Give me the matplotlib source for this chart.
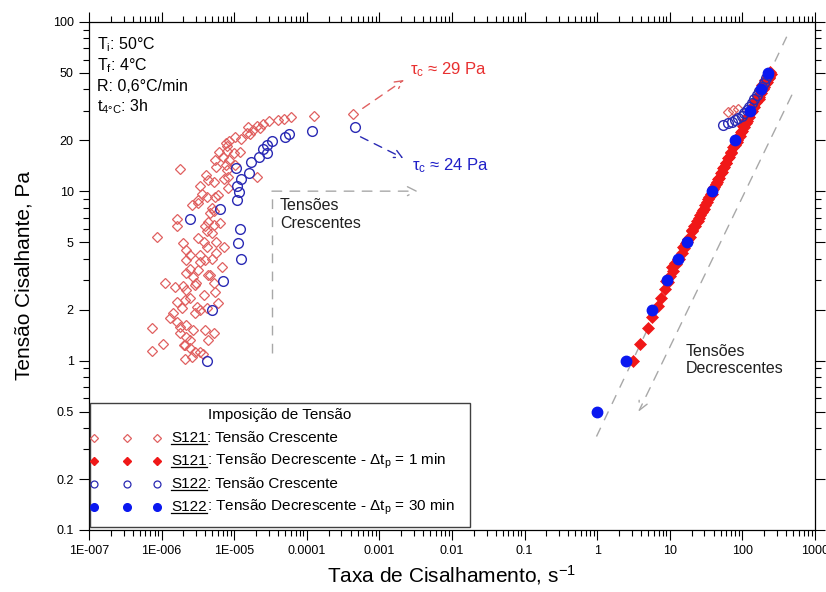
import matplotlib
matplotlib.use('Agg')
import matplotlib.pyplot as plt
from matplotlib.patches import Rectangle
from matplotlib.lines import Line2D
from matplotlib.ticker import FixedLocator, FixedFormatter, NullFormatter

plt.rcParams['font.family'] = ['Liberation Sans', 'DejaVu Sans']
plt.rcParams['mathtext.fontset'] = 'custom'
plt.rcParams['mathtext.rm'] = 'Liberation Sans'
plt.rcParams['mathtext.it'] = 'Liberation Sans:italic'
plt.rcParams['mathtext.bf'] = 'Liberation Sans:bold'

# ---------------- data ----------------
# S121 - increasing stress (open red diamonds)
s121_inc_x = [6.0e-5, 4.85e-5, 4.0e-5, 3.05e-5, 2.47e-5, 2.04e-5, 1.57e-5, 1.84e-5, 1.49e-5, 1.25e-5,
              1.04e-5, 8.6e-6, 7.7e-6, 7.9e-6, 8.0e-6, 6.2e-6, 7.1e-6, 5.7e-6, 8.5e-6, 9.9e-6,
              1.2e-5, 1.04e-5, 7.9e-6, 8.3e-6, 7.3e-6, 1.79e-6, 2.04e-5, 5.3e-6, 4.3e-6, 3.4e-6,
              3.6e-6, 4.2e-6, 3.2e-6, 2.6e-6, 5.4e-6, 5.2e-6, 4.6e-6, 4.3e-6, 5.2e-6, 6.4e-6,
              4.2e-6, 4.9e-6, 3.2e-6, 3.8e-6, 4.2e-6, 2.0e-6, 2.2e-6, 1.65e-6, 1.65e-6, 8.7e-7,
              7.2e-6, 5.7e-6, 4.9e-6, 3.4e-6, 4.0e-6, 2.2e-6, 2.46e-6, 2.7e-6, 2.2e-6, 3.2e-6,
              6.7e-6, 4.4e-6, 3.0e-6, 5.2e-6, 3.84e-6, 5.4e-6, 5.9e-6, 1.1e-6, 1.53e-6, 2.0e-6,
              2.2e-6, 1.61e-6, 2.46e-6, 3.04e-6, 2.9e-6, 3.4e-6, 4.2e-6, 1.89e-6, 1.45e-6, 1.61e-6,
              1.79e-6, 2.2e-6, 2.7e-6, 1.79e-6, 2.17e-6, 2.46e-6, 2.03e-6, 2.46e-6, 2.9e-6, 2.1e-6,
              2.6e-6, 3.76e-6, 5.2e-6, 4.4e-6, 7.3e-7, 1.03e-6, 7.3e-7, 1.27e-4, 4.38e-4, 2.26e-5,
              1.65e-5, 5.4e-6, 7.7e-6, 4.1e-6, 8.2e-6, 6.0e-6, 3.2e-6, 4.9e-6, 3.96e-6, 5.6e-6,
              2.46e-6, 3.4e-6, 4.6e-6, 2.9e-6, 2.1e-6, 1.3e-6, 3.96e-6, 2.1e-6, 3.4e-6,
              64.0, 74.0, 87.0]
s121_inc_y = [27.3, 26.6, 26.4, 26.1, 25.0, 24.3, 24.1, 23.0, 22.0, 20.5,
              20.8, 19.9, 19.2, 18.4, 17.4, 17.1, 15.9, 14.0, 15.3, 16.9,
              17.1, 14.3, 13.4, 12.2, 11.8, 13.6, 12.1, 11.3, 11.6, 10.8,
              9.7, 9.3, 8.5, 8.3, 9.3, 7.7, 7.4, 6.6, 6.3, 6.5,
              5.85, 5.65, 5.27, 5.04, 4.71, 4.93, 4.5, 6.9, 6.2, 5.35,
              4.71, 4.3, 4.0, 4.2, 3.93, 3.93, 3.5, 3.13, 3.28, 3.43,
              3.59, 3.2, 2.86, 2.86, 2.44, 2.55, 2.18, 2.89, 2.73, 2.76,
              2.61, 2.23, 2.33, 2.08, 1.9, 1.99, 2.04, 2.04, 1.9, 1.7,
              1.59, 1.62, 1.52, 1.45, 1.38, 1.32, 1.24, 1.18, 1.13, 1.02,
              1.05, 1.09, 1.45, 1.32, 1.55, 1.26, 1.14, 28.0, 28.6, 23.7,
              21.8, 15.3, 14.3, 12.5, 10.4, 9.5, 8.9, 8.0, 6.2, 5.0,
              4.2, 3.8, 3.2, 2.8, 2.28, 1.79, 1.52, 1.24, 1.12,
              29.5, 30.2, 30.6]

# S121 - decreasing stress, dt_p = 1 min (filled red diamonds)
s121_dec_x = [3.1, 3.9, 5.0, 5.6, 6.9, 7.6, 8.6, 9.4, 10.2, 11.2, 12.3, 13.4, 14.6, 15.9, 17.3,
              18.9, 20.5, 22.3, 24.2, 26.3, 28.6, 31.0, 33.7, 36.5, 39.5, 42.9, 46.4, 50.3, 54.3,
              58.8, 63.7, 69.0, 74.6, 80.8, 87.3, 94.3, 102, 110, 119, 129, 139, 150, 162, 175,
              189, 205, 222, 238,
              9.0, 11.8, 16.5, 21.5, 27.5, 35.0, 44.0, 56.0, 70.0, 85.0, 98.0, 115, 133, 155,
              180, 212, 230, 245,
              10.8, 13.0, 15.2, 17.8, 20.0, 23.5, 25.5, 30.0, 32.5, 38.0, 41.0, 48.0, 52.0, 60.0,
              66.0, 78.0, 83.0, 92.0, 105, 112, 124, 137, 145, 168, 172, 195, 200, 215, 232]
s121_dec_y = [1.0, 1.25, 1.55, 1.8, 2.1, 2.35, 2.65, 2.9, 3.15, 3.4, 3.7, 4.0, 4.3, 4.65, 5.0,
              5.4, 5.8, 6.25, 6.7, 7.2, 7.75, 8.3, 8.95, 9.6, 10.3, 11.1, 11.9, 12.8, 13.7,
              14.7, 15.8, 17.0, 18.2, 19.6, 21.0, 22.5, 24.2, 26.0, 27.9, 29.9, 32.0, 34.3, 36.8, 39.4,
              42.2, 45.2, 48.4, 50.5,
              2.95, 3.75, 4.95, 6.2, 7.6, 9.3, 11.4, 14.0, 16.9, 20.0, 22.6, 26.0, 29.4, 33.5,
              38.0, 43.5, 46.5, 49.0,
              3.55, 4.0, 4.7, 5.2, 5.9, 6.7, 7.0, 7.9, 8.6, 9.7, 10.6, 12.0, 13.0, 14.8,
              16.0, 18.7, 19.5, 21.3, 24.0, 25.3, 27.5, 29.8, 31.3, 35.2, 36.2, 40.0, 41.5, 44.0, 47.5]

# S122 - increasing stress (open blue circles)
s122_inc_x = [4.27e-6, 4.9e-6, 7.08e-6, 1.24e-5, 1.12e-5, 1.19e-5, 2.44e-6, 6.44e-6, 1.08e-5, 1.15e-5,
              1.08e-5, 1.23e-5, 1.6e-5, 1.05e-5, 1.72e-5, 2.2e-5, 2.8e-5, 2.47e-5, 2.83e-5, 3.29e-5,
              4.97e-5, 5.69e-5, 1.19e-4, 4.66e-4,
              54.6, 62.7, 71.3, 79.0, 87.9, 97.8, 106, 116, 123, 134, 146, 157, 169, 185, 196, 209, 223]
s122_inc_y = [0.99, 1.99, 2.96, 4.0, 4.97, 5.97, 6.89, 7.89, 8.89, 9.9,
              10.8, 11.9, 12.9, 13.7, 14.9, 15.9, 16.8, 17.9, 18.7, 19.8,
              20.9, 21.8, 22.7, 23.9,
              24.6, 25.2, 25.8, 26.4, 27.0, 27.9, 28.9, 30.2, 31.6, 33.1, 35.0, 37.0, 39.3, 41.5, 43.8, 46.5, 48.6]

# S122 - decreasing stress, dt_p = 30 min (filled blue circles)
s122_dec_x = [1.0, 2.47, 5.63, 9.06, 13.1, 17.1, 37.8, 79.0, 127, 180, 227]
s122_dec_y = [0.5, 1.0, 2.0, 3.0, 4.0, 5.0, 10.0, 20.0, 30.0, 40.0, 50.0]

x_ticks = [1e-7, 1e-6, 1e-5, 1e-4, 1e-3, 1e-2, 1e-1, 1, 10, 100, 1000]
x_tick_labels = ['1E-007', '1E-006', '1E-005', '0.0001', '0.001', '0.01', '0.1', '1', '10', '100', '1000']
y_ticks = [0.1, 0.2, 0.5, 1, 2, 5, 10, 20, 50, 100]
y_tick_labels = ['0.1', '0.2', '0.5', '1', '2', '5', '10', '20', '50', '100']

# ---------------- styles ----------------
RED_OPEN = '#e06060'
RED_FILL = '#f01818'
BLUE_OPEN = '#2a2ab4'
BLUE_FILL = '#0a18f0'
GREY = '#a8a8a8'

fig = plt.figure(figsize=(8.26, 5.92), dpi=100)
ax = fig.add_axes([89 / 826, 62 / 592, 726 / 826, 508 / 592])
ax.set_xscale('log')
ax.set_yscale('log')
ax.set_xlim(1e-7, 1e3)
ax.set_ylim(0.1, 100)

ax.plot(s121_inc_x, s121_inc_y, linestyle='none', marker='D', markersize=5.2,
        markerfacecolor='none', markeredgecolor=RED_OPEN, markeredgewidth=0.9, zorder=3)
ax.plot(s121_dec_x, s121_dec_y, linestyle='none', marker='D', markersize=6,
        markerfacecolor=RED_FILL, markeredgecolor=RED_FILL, markeredgewidth=0.5, zorder=4)
ax.plot(s122_inc_x, s122_inc_y, linestyle='none', marker='o', markersize=7,
        markerfacecolor='none', markeredgecolor=BLUE_OPEN, markeredgewidth=1.0, zorder=4)
ax.plot(s122_dec_x, s122_dec_y, linestyle='none', marker='o', markersize=7.5,
        markerfacecolor=BLUE_FILL, markeredgecolor=BLUE_FILL, zorder=5)

# ticks
ax.xaxis.set_major_locator(FixedLocator(x_ticks))
ax.xaxis.set_major_formatter(FixedFormatter(x_tick_labels))
ax.xaxis.set_minor_locator(FixedLocator([m * 10.0 ** k for k in range(-7, 3) for m in range(2, 10)]))
ax.xaxis.set_minor_formatter(NullFormatter())
ax.yaxis.set_major_locator(FixedLocator(y_ticks))
ax.yaxis.set_major_formatter(FixedFormatter(y_tick_labels))
ax.yaxis.set_minor_locator(FixedLocator([m * 10.0 ** k for k in range(-1, 2) for m in range(2, 10)]))
ax.yaxis.set_minor_formatter(NullFormatter())
ax.tick_params(which='both', direction='out', top=True, right=True, labelsize=9, width=0.8)
ax.tick_params(which='major', length=7, pad=4)
ax.tick_params(which='minor', length=4)
for s in ax.spines.values():
    s.set_linewidth(0.9)

ax.set_xlabel('Taxa de Cisalhamento, s$^{\\mathrm{-1}}$', fontsize=15, labelpad=4)
ax.set_ylabel('Tensão Cisalhante, Pa', fontsize=15, labelpad=14)

# top-left conditions
cond = ['T$_\\mathrm{i}$: 50°C', 'T$_\\mathrm{f}$: 4°C', 'R: 0,6°C/min', 't$_\\mathrm{4°C}$: 3h']
for t, yy in zip(cond, [0.955, 0.914, 0.873, 0.833]):
    ax.text(0.011, yy, t, transform=ax.transAxes, fontsize=11.5, va='center', ha='left')

# critical stress annotations
dash = (0, (6, 5))
ax.annotate('', xy=(0.434, 0.886), xytext=(0.377, 0.830), xycoords='axes fraction',
            arrowprops=dict(arrowstyle='->', color=RED_OPEN, lw=1.0, linestyle=dash,
                            shrinkA=0, shrinkB=0, mutation_scale=14))
ax.text(0.442, 0.907, 'τ$_\\mathrm{c}$ ≈ 29 Pa', transform=ax.transAxes, color='#e83030',
        fontsize=12, va='center', ha='left')
ax.annotate('', xy=(0.433, 0.732), xytext=(0.374, 0.774), xycoords='axes fraction',
            arrowprops=dict(arrowstyle='->', color=BLUE_OPEN, lw=1.0, linestyle=dash,
                            shrinkA=0, shrinkB=0, mutation_scale=14))
ax.text(0.445, 0.717, 'τ$_\\mathrm{c}$ ≈ 24 Pa', transform=ax.transAxes, color='#2020c8',
        fontsize=12, va='center', ha='left')

# grey guides: increasing stresses
gdash = (0, (7, 6))
ax.plot([0.252, 0.252], [0.348, 0.667], transform=ax.transAxes, color=GREY, lw=1.0,
        linestyle=gdash)
ax.annotate('', xy=(0.453, 0.667), xytext=(0.252, 0.667), xycoords='axes fraction',
            arrowprops=dict(arrowstyle='->', color=GREY, lw=1.0, linestyle=gdash,
                            shrinkA=0, shrinkB=0, mutation_scale=16))
ax.text(0.263, 0.653, 'Tensões\nCrescentes', transform=ax.transAxes, fontsize=11.5,
        va='top', ha='left', linespacing=1.2, color='#202020')

# grey guides: decreasing stresses
ax.plot([0.699, 0.961], [0.184, 0.971], transform=ax.transAxes, color=GREY, lw=1.0,
        linestyle=gdash, zorder=2)
ax.annotate('', xy=(0.757, 0.233), xytext=(0.968, 0.856), xycoords='axes fraction',
            arrowprops=dict(arrowstyle='->', color=GREY, lw=1.0, linestyle=gdash,
                            shrinkA=0, shrinkB=0, mutation_scale=16))
ax.text(0.822, 0.366, 'Tensões\nDecrescentes', transform=ax.transAxes, fontsize=11.5,
        va='top', ha='left', linespacing=1.2, color='#202020')

# ---------------- manual legend ----------------
lx0, lx1, ly0, ly1 = 0.0014, 0.525, 0.006, 0.250
ax.add_patch(Rectangle((lx0, ly0), lx1 - lx0, ly1 - ly0, transform=ax.transAxes,
                       facecolor='white', edgecolor='#404040', lw=1.0, zorder=10))
ax.text((lx0 + lx1) / 2, 0.226, 'Imposição de Tensão', transform=ax.transAxes,
        fontsize=11, ha='center', va='center', zorder=11)
rows = [
    ('S121', ': Tensão Crescente', dict(marker='D', markersize=4.2, markerfacecolor='none',
                                        markeredgecolor=RED_OPEN, markeredgewidth=0.9)),
    ('S121', ': Tensão Decrescente - Δt$_\\mathrm{p}$ = 1 min',
     dict(marker='D', markersize=4.5, markerfacecolor=RED_FILL, markeredgecolor=RED_FILL)),
    ('S122', ': Tensão Crescente', dict(marker='o', markersize=5, markerfacecolor='none',
                                        markeredgecolor=BLUE_OPEN, markeredgewidth=0.9)),
    ('S122', ': Tensão Decrescente - Δt$_\\mathrm{p}$ = 30 min',
     dict(marker='o', markersize=5.5, markerfacecolor=BLUE_FILL, markeredgecolor=BLUE_FILL)),
]
row_y = [0.181, 0.136, 0.0906, 0.0453]
renderer = fig.canvas.get_renderer()
for (name, rest, mk), yy in zip(rows, row_y):
    ax.add_line(Line2D([0.007, 0.053, 0.094], [yy, yy, yy], transform=ax.transAxes,
                       linestyle='none', zorder=11, clip_on=False, **mk))
    t1 = ax.text(0.113, yy, name, transform=ax.transAxes, fontsize=11, ha='left',
                 va='center', zorder=11)
    bb = t1.get_window_extent(renderer)
    (bx0, by0) = ax.transAxes.inverted().transform((bb.x0, bb.y0))
    (bx1, _) = ax.transAxes.inverted().transform((bb.x1, bb.y0))
    ax.plot([bx0, bx1], [by0 + 0.002, by0 + 0.002], transform=ax.transAxes, color='black',
            lw=0.9, zorder=11)
    ax.text(bx1, yy, rest, transform=ax.transAxes, fontsize=11, ha='left', va='center',
            zorder=11)

fig.savefig('out.png', dpi=100)
